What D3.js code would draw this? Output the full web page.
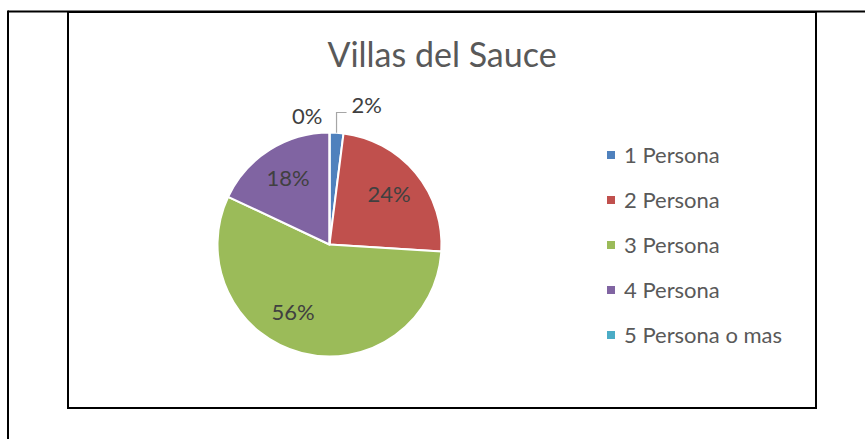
<!DOCTYPE html>
<html lang="es">
<head>
    <meta charset="utf-8">
    <title>Villas del Sauce</title>
    <script src="https://cdn.jsdelivr.net/npm/d3@7/dist/d3.min.js"></script>
    <style>
        body { margin: 0; background: #fff; }
        svg { display: block; font-family: Lato, "Open Sans", sans-serif; }
    </style>
</head>
<body>
    <svg width="865" height="439"></svg>
    <script>
        // datos
        var categories = ["1 Persona", "2 Persona", "3 Persona", "4 Persona", "5 Persona o mas"];
        var values = [1, 12, 28, 9, 0];
        var colors = ["#4F81BD", "#C0504D", "#9BBB59", "#8064A2", "#4BACC6"];
        var title = "Villas del Sauce";

        var svg = d3.select("svg");

        // marco exterior (tabla) y borde del grafico
        svg.append("line").attr("x1", 8).attr("y1", 11.5).attr("x2", 865).attr("y2", 11.5)
            .attr("stroke", "#000").attr("stroke-width", 2);
        svg.append("line").attr("x1", 8).attr("y1", 10.5).attr("x2", 8).attr("y2", 439)
            .attr("stroke", "#000").attr("stroke-width", 2);
        svg.append("rect").attr("x", 68).attr("y", 12).attr("width", 748).attr("height", 396)
            .attr("fill", "none").attr("stroke", "#000").attr("stroke-width", 2);

        svg.append("text")
            .attr("x", 442).attr("y", 67)
            .attr("text-anchor", "middle")
            .attr("fill", "#595959")
            .attr("font-size", 34)
            .text(title);

        var cx = 329.5, cy = 244.5, r = 112;
        var total = d3.sum(values);
        var pie = d3.pie().sort(null).value(function (d) { return d; });
        var arcs = pie(values);
        var arc = d3.arc().innerRadius(0).outerRadius(r);
        var labelArc = d3.arc().innerRadius(r * 0.69).outerRadius(r * 0.69);

        var g = svg.append("g").attr("transform", "translate(" + cx + "," + cy + ")");

        g.selectAll("path.slice")
            .data(arcs)
            .enter()
            .append("path")
            .attr("class", "slice")
            .attr("d", arc)
            .attr("fill", function (d, i) { return colors[i]; })
            .attr("stroke", "#fff")
            .attr("stroke-width", 2)
            .attr("stroke-linejoin", "round");

        var pct = function (d) { return Math.round(d.value / total * 100) + "%"; };

        // etiquetas dentro de las porciones grandes (la mas grande se corre un poco, como el "mejor ajuste" de Excel)
        g.selectAll("text.inside")
            .data(arcs.filter(function (d) { return d.value / total >= 0.1; }))
            .enter()
            .append("text")
            .attr("class", "inside")
            .attr("transform", function (d) {
                var a = (d.startAngle + d.endAngle) / 2;
                if (d.value / total > 0.5) a += 0.24;
                var rr = r * 0.69;
                return "translate(" + (Math.sin(a) * rr) + "," + (-Math.cos(a) * rr + 7) + ")";
            })
            .attr("text-anchor", "middle")
            .attr("fill", "#404040")
            .attr("font-size", 22)
            .text(pct);

        // etiquetas fuera para las porciones chicas
        var small = arcs.filter(function (d) { return d.value / total < 0.1; });
        var outerArc = d3.arc().innerRadius(r).outerRadius(r);
        small.forEach(function (d) {
            var p0 = outerArc.centroid(d);
            if (d.value > 0) {
                var yKnee = -r - 20;
                g.append("path")
                    .attr("d", d3.line()([[p0[0], p0[1]], [p0[0], yKnee], [p0[0] + 10, yKnee]]))
                    .attr("fill", "none")
                    .attr("stroke", "#a6a6a6")
                    .attr("stroke-width", 1.2);
                g.append("text")
                    .attr("x", p0[0] + 15).attr("y", yKnee)
                    .attr("fill", "#404040")
                    .attr("font-size", 22)
                    .text(pct(d));
            } else {
                g.append("text")
                    .attr("x", p0[0] - 7).attr("y", -r - 9)
                    .attr("text-anchor", "end")
                    .attr("fill", "#404040")
                    .attr("font-size", 22)
                    .text(pct(d));
            }
        });

        // leyenda
        var legend = svg.append("g").attr("transform", "translate(607,155)");
        var item = legend.selectAll("g.item")
            .data(categories)
            .enter()
            .append("g")
            .attr("class", "item")
            .attr("transform", function (d, i) { return "translate(0," + (i * 45) + ")"; });
        item.append("rect")
            .attr("x", 0).attr("y", -4).attr("width", 8).attr("height", 8)
            .attr("fill", function (d, i) { return colors[i]; });
        item.append("text")
            .attr("x", 17).attr("y", 7.5)
            .attr("fill", "#595959")
            .attr("font-size", 22)
            .text(function (d) { return d; });
    </script>
</body>
</html>
